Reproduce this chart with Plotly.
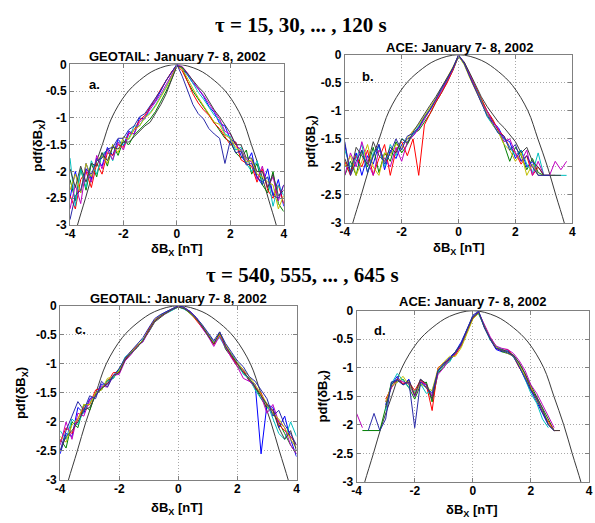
import plotly.graph_objects as go

W, H = 595, 523

# ---------------- data ----------------
x_full = [-4.0, -3.8, -3.6, -3.4, -3.2, -3.0, -2.8, -2.6, -2.4, -2.2, -2.0, -1.8, -1.6, -1.4,
          -1.2, -1.0, -0.8, -0.6, -0.4, -0.2, 0.0, 0.2, 0.4, 0.6, 0.8, 1.0, 1.2, 1.4, 1.6, 1.8,
          2.0, 2.2, 2.4, 2.6, 2.8, 3.0, 3.2, 3.4, 3.6, 3.8, 4.0]
x_ace_short = x_full[:40]
x_ace_long = x_full[:36]

# panel a: GEOTAIL, tau = 15..120 s
geotail_short = [
    [-2.5,-2.0,-2.4,-1.85,-2.15,-1.75,-1.9,-1.55,-1.7,-1.4,-1.52,-1.25,-1.3,-1.0,-1.02,-0.8,-0.68,-0.48,-0.3,-0.15,0.0,-0.08,-0.2,-0.35,-0.45,-0.6,-0.78,-0.9,-1.1,-1.15,-1.4,-1.45,-1.7,-1.85,-1.65,-2.1,-2.25,-1.95,-2.45,-2.15,-2.65],
    [-2.15,-2.55,-1.95,-2.35,-1.85,-2.1,-1.65,-1.9,-1.5,-1.7,-1.42,-1.5,-1.32,-1.22,-1.12,-1.02,-0.88,-0.7,-0.5,-0.28,-0.03,-0.07,-0.32,-0.5,-0.65,-0.8,-0.95,-1.1,-1.25,-1.38,-1.45,-1.65,-1.75,-1.6,-2.05,-1.85,-2.25,-2.4,-2.0,-2.6,-2.75],
    [-2.45,-2.7,-2.15,-2.0,-2.3,-1.85,-2.05,-1.65,-1.7,-1.5,-1.55,-1.3,-1.22,-1.05,-0.95,-0.8,-0.64,-0.46,-0.3,-0.14,-0.02,-0.12,-0.32,-0.55,-0.72,-0.85,-0.95,-1.1,-1.2,-1.35,-1.5,-1.45,-1.78,-1.85,-1.9,-2.2,-1.95,-2.35,-2.5,-2.25,-2.6],
    [-1.75,-2.65,-1.95,-2.3,-1.8,-2.05,-1.68,-1.6,-1.8,-1.45,-1.5,-1.38,-1.15,-1.15,-0.98,-0.9,-0.76,-0.6,-0.42,-0.22,-0.01,-0.05,-0.18,-0.35,-0.52,-0.65,-0.8,-0.95,-1.05,-1.3,-1.35,-1.6,-1.55,-1.85,-2.0,-1.8,-2.2,-2.1,-2.65,-2.25,-2.45],
    [-2.7,-2.25,-2.6,-1.95,-2.2,-1.7,-1.95,-1.58,-1.78,-1.45,-1.6,-1.28,-1.3,-1.08,-0.98,-0.85,-0.7,-0.55,-0.38,-0.2,-0.01,-0.04,-0.16,-0.32,-0.46,-0.58,-0.72,-0.88,-1.02,-1.25,-1.3,-1.5,-1.6,-1.78,-1.82,-2.15,-1.9,-2.3,-2.1,-2.55,-2.25],
    [-2.35,-2.05,-2.4,-1.85,-2.1,-1.8,-1.7,-1.85,-1.5,-1.65,-1.35,-1.4,-1.22,-1.15,-1.0,-0.92,-0.78,-0.62,-0.44,-0.24,-0.02,-0.08,-0.28,-0.45,-0.62,-0.78,-0.92,-1.08,-1.12,-1.32,-1.38,-1.55,-1.62,-1.82,-1.78,-2.05,-2.1,-2.2,-2.25,-2.7,-2.45],
    [-1.95,-2.3,-1.9,-2.2,-1.85,-1.9,-1.65,-1.8,-1.55,-1.58,-1.45,-1.45,-1.35,-1.25,-1.15,-1.08,-0.92,-0.75,-0.55,-0.3,-0.03,-0.05,-0.18,-0.3,-0.42,-0.52,-0.68,-0.85,-0.98,-1.12,-1.28,-1.5,-1.5,-1.75,-1.75,-2.0,-2.0,-2.3,-2.05,-2.45,-2.35],
    [-2.9,-2.45,-2.35,-1.95,-2.05,-1.8,-1.75,-1.58,-1.55,-1.38,-1.38,-1.22,-1.15,-0.98,-0.92,-0.78,-0.62,-0.48,-0.3,-0.15,0.0,-0.22,-0.5,-0.75,-0.92,-1.02,-1.2,-1.3,-1.38,-1.85,-1.42,-1.65,-1.62,-1.88,-1.85,-2.1,-2.2,-2.1,-2.45,-2.5,-2.25],
]

# panel b: ACE, tau = 15..120 s
ace_short = [
    [-1.6,-2.1,-1.75,-2.15,-1.8,-1.95,-1.6,-2.05,-1.7,-1.85,-1.6,-1.5,-1.45,-1.3,-1.1,-0.98,-0.8,-0.62,-0.45,-0.25,-0.02,-0.15,-0.4,-0.62,-0.85,-1.05,-1.2,-1.3,-1.5,-1.55,-1.85,-1.7,-2.0,-1.9,-2.15,-2.15,None,None,None,None],
    [-2.15,-1.9,-2.15,-1.7,-2.0,-1.65,-2.1,-1.75,-1.9,-1.55,-1.75,-1.6,-1.4,-1.35,-1.2,-1.05,-0.85,-0.68,-0.48,-0.28,-0.03,-0.16,-0.38,-0.6,-0.8,-1.0,-1.18,-1.35,-1.6,-1.9,-1.65,-1.8,-2.05,-1.85,-2.1,-2.15,-2.15,None,None,None],
    [-1.9,-2.15,-1.8,-2.0,-1.7,-2.15,-1.85,-1.6,-2.15,-1.7,-1.55,-1.8,-1.5,-2.15,-1.25,-1.05,-0.85,-0.68,-0.5,-0.28,-0.02,-0.14,-0.36,-0.58,-0.8,-1.0,-1.15,-1.35,-1.45,-1.65,-1.75,-1.95,-1.8,-2.15,-2.0,-2.15,-2.15,-2.15,None,None],
    [-1.7,-2.0,-1.85,-1.6,-2.1,-1.75,-1.65,-2.0,-1.6,-1.8,-1.5,-1.55,-1.42,-1.28,-1.12,-0.95,-0.8,-0.62,-0.45,-0.25,-0.02,-0.17,-0.4,-0.6,-0.82,-1.1,-1.25,-1.4,-1.5,-1.65,-1.8,-1.7,-1.95,-2.1,-1.75,-2.15,-2.15,-2.15,-2.15,-2.15],
    [-2.15,-1.75,-2.0,-1.55,-1.9,-2.15,-1.7,-1.85,-2.0,-1.65,-1.9,-1.55,-1.45,-1.32,-1.15,-1.0,-0.82,-0.65,-0.46,-0.26,-0.01,-0.14,-0.37,-0.6,-0.85,-1.0,-1.2,-1.32,-1.55,-1.5,-1.75,-1.9,-1.7,-2.15,-1.9,-2.15,-2.15,-1.9,-2.05,-1.9],
    [-2.0,-1.8,-2.15,-1.9,-1.6,-2.0,-2.15,-1.75,-1.8,-1.6,-1.65,-1.5,-1.35,-1.25,-1.1,-0.95,-0.78,-0.6,-0.42,-0.22,-0.02,-0.18,-0.42,-0.65,-0.85,-1.05,-1.25,-1.38,-1.6,-1.7,-1.9,-1.75,-2.15,-1.95,-2.15,-2.15,None,None,None,None],
    [-1.85,-2.1,-1.65,-1.8,-1.95,-1.55,-1.8,-1.9,-1.65,-1.75,-1.5,-1.58,-1.38,-1.22,-1.05,-0.9,-0.75,-0.58,-0.42,-0.24,-0.02,-0.13,-0.33,-0.55,-0.75,-0.92,-1.05,-1.2,-1.3,-1.42,-1.55,-1.75,-1.65,-1.9,-2.0,-2.15,-2.15,-2.15,-2.15,None],
    [-1.55,-2.15,-1.9,-1.7,-2.1,-1.8,-1.6,-1.95,-1.75,-1.5,-1.7,-1.45,-1.4,-1.3,-1.12,-0.98,-0.8,-0.6,-0.44,-0.24,0.0,-0.16,-0.4,-0.63,-0.85,-1.08,-1.22,-1.4,-1.45,-1.7,-1.6,-1.9,-1.8,-2.0,-2.15,-2.15,-2.15,None,None,None],
]

# panel c: GEOTAIL, tau = 540..645 s
geotail_long = [
    [-2.55,-2.2,-2.25,-1.75,-1.85,-1.6,-1.55,-1.35,-1.35,-1.2,-1.15,-0.9,-0.82,-0.68,-0.62,-0.42,-0.25,-0.16,-0.1,-0.05,0.0,-0.03,-0.1,-0.2,-0.35,-0.48,-0.62,-0.52,-0.72,-0.85,-1.0,-1.1,-1.3,-1.35,-2.55,-1.7,-1.75,-2.1,-1.9,-2.3,-2.6],
    [-2.3,-2.45,-2.0,-2.1,-1.7,-1.8,-1.5,-1.45,-1.28,-1.25,-1.08,-0.95,-0.8,-0.72,-0.58,-0.45,-0.28,-0.2,-0.12,-0.07,-0.02,-0.05,-0.13,-0.22,-0.36,-0.52,-0.65,-0.48,-0.75,-0.88,-1.05,-1.15,-1.28,-1.4,-1.6,-1.75,-1.85,-2.0,-2.2,-2.4,-2.55],
    [-2.35,-2.1,-2.2,-1.95,-1.75,-1.7,-1.45,-1.42,-1.32,-1.15,-1.15,-0.92,-0.78,-0.7,-0.6,-0.4,-0.24,-0.18,-0.11,-0.06,-0.01,-0.04,-0.12,-0.24,-0.36,-0.5,-0.67,-0.5,-0.7,-0.88,-1.02,-1.12,-1.28,-1.42,-1.5,-1.72,-1.8,-2.05,-2.15,-2.25,-2.4],
    [-2.15,-2.3,-1.95,-2.05,-1.8,-1.65,-1.55,-1.4,-1.3,-1.25,-1.1,-0.88,-0.8,-0.72,-0.58,-0.45,-0.26,-0.17,-0.13,-0.07,-0.02,-0.06,-0.12,-0.22,-0.33,-0.5,-0.63,-0.55,-0.72,-0.82,-0.98,-1.18,-1.25,-1.45,-1.6,-1.68,-1.95,-2.2,-2.3,-2.0,-2.25],
    [-2.4,-2.0,-2.3,-1.85,-1.9,-1.62,-1.55,-1.38,-1.4,-1.2,-1.18,-0.95,-0.84,-0.7,-0.62,-0.44,-0.27,-0.19,-0.12,-0.06,-0.01,-0.04,-0.1,-0.2,-0.38,-0.52,-0.7,-0.52,-0.72,-0.9,-1.05,-1.25,-1.3,-1.38,-1.55,-1.85,-1.7,-2.0,-2.1,-2.4,-2.55],
    [-2.25,-2.35,-2.05,-1.95,-1.7,-1.7,-1.5,-1.45,-1.25,-1.22,-1.12,-0.9,-0.8,-0.68,-0.6,-0.42,-0.25,-0.17,-0.12,-0.05,-0.02,-0.04,-0.13,-0.23,-0.34,-0.48,-0.64,-0.5,-0.68,-0.84,-0.98,-1.1,-1.22,-1.36,-1.52,-1.7,-1.85,-1.95,-2.1,-2.3,-2.45],
    [-2.5,-2.25,-2.15,-2.0,-1.8,-1.75,-1.55,-1.42,-1.35,-1.2,-1.15,-0.93,-0.82,-0.72,-0.6,-0.44,-0.26,-0.18,-0.12,-0.06,-0.02,-0.05,-0.12,-0.22,-0.35,-0.5,-0.66,-0.45,-0.7,-0.85,-1.0,-1.15,-1.25,-1.4,-1.55,-1.7,-1.8,-2.1,-2.3,-2.15,-2.5],
    [-2.5,-2.15,-1.9,-1.65,-1.8,-1.55,-1.6,-1.3,-1.4,-1.2,-1.08,-0.9,-0.78,-0.66,-0.55,-0.38,-0.22,-0.15,-0.1,-0.05,0.0,-0.03,-0.1,-0.2,-0.32,-0.46,-0.6,-0.45,-0.65,-0.8,-0.95,-1.05,-1.22,-1.3,-1.45,-1.6,-1.9,-1.8,-2.05,-2.2,-2.4],
]

# panel d: ACE, tau = 540..645 s
ace_long = [
    [None,None,None,None,None,-1.65,-1.3,-1.15,-1.3,-1.2,-1.5,-1.2,-1.35,-1.5,-1.05,-0.95,-0.82,-0.72,-0.55,-0.32,-0.1,-0.02,-0.3,-0.5,-0.68,-0.72,-0.7,-0.8,-0.98,-1.2,-1.4,-1.6,-1.8,-2.0,-2.1,None],
    [None,-2.1,-2.1,-2.1,-2.1,-1.7,-1.25,-1.25,-1.2,-1.35,-1.55,-1.3,-1.25,-1.6,-1.1,-0.98,-0.88,-0.75,-0.62,-0.38,-0.12,-0.05,-0.28,-0.48,-0.62,-0.72,-0.75,-0.78,-0.92,-1.12,-1.3,-1.5,-1.7,-1.92,-2.1,None],
    [None,None,None,None,None,-1.55,-1.35,-1.2,-1.28,-1.25,-1.4,-1.22,-1.3,-1.75,-1.0,-0.92,-0.85,-0.78,-0.6,-0.35,-0.14,-0.04,-0.26,-0.5,-0.66,-0.7,-0.68,-0.8,-1.0,-1.15,-1.35,-1.55,-1.78,-1.95,-2.1,-2.1],
    [None,None,None,None,None,-1.75,-1.28,-1.1,-1.22,-1.35,-1.42,-1.28,-1.45,-1.4,-1.08,-0.95,-0.9,-0.72,-0.58,-0.34,-0.1,-0.06,-0.3,-0.52,-0.63,-0.68,-0.72,-0.82,-0.95,-1.2,-1.45,-1.62,-1.9,-2.05,None,None],
    [-1.8,-2.05,None,None,None,-1.6,-1.35,-1.2,-1.25,-1.28,-1.5,-1.25,-1.3,-1.5,-1.12,-1.0,-0.85,-0.75,-0.6,-0.36,-0.12,-0.03,-0.25,-0.46,-0.62,-0.66,-0.68,-0.75,-0.88,-1.05,-1.3,-1.45,-1.65,-1.85,-2.05,None],
    [None,None,None,None,None,-1.6,-1.32,-1.25,-1.15,-1.3,-1.45,-1.28,-1.35,-1.4,-1.02,-0.9,-0.8,-0.8,-0.65,-0.4,-0.15,-0.04,-0.27,-0.5,-0.64,-0.7,-0.75,-0.8,-0.95,-1.15,-1.35,-1.58,-1.75,-1.98,-2.1,None],
    [None,None,None,None,None,-1.7,-1.3,-1.2,-1.3,-1.22,-1.48,-1.2,-1.28,-1.55,-1.05,-0.95,-0.85,-0.72,-0.58,-0.34,-0.12,-0.03,-0.3,-0.5,-0.66,-0.68,-0.72,-0.78,-0.92,-1.1,-1.38,-1.52,-1.72,-2.0,-2.1,-2.1],
    [None,None,-2.1,-1.8,-2.1,-1.9,-1.25,-1.22,-1.3,-1.25,-2.05,-1.25,-1.35,-1.45,-1.05,-0.92,-0.84,-0.74,-0.58,-0.33,-0.08,-0.01,-0.28,-0.5,-0.66,-0.7,-0.74,-0.8,-0.98,-1.18,-1.4,-1.55,-1.78,-2.0,-2.1,None],
]

# Gaussian reference curve (same in all panels)
gauss_x = [-3.85, -3.72, -3.42, -3.13, -2.79, -2.44, -1.9, -1.4, -0.8, 0.0, 0.8, 1.4, 1.9, 2.44, 2.79, 3.13, 3.42, 3.72, 3.85]
gauss_y = [-3.25, -3.0, -2.5, -2.0, -1.5, -1.0, -0.55, -0.3, -0.1, 0.0, -0.1, -0.3, -0.55, -1.0, -1.5, -2.0, -2.5, -3.0, -3.25]

x_ticks = [-4, -2, 0, 2, 4]
y_ticks = [-3, -2.5, -2, -1.5, -1, -0.5, 0]
y_tick_text = ["-3", "-2.5", "-2", "-1.5", "-1", "-0.5", "0"]

panel_titles = ["GEOTAIL: January 7- 8, 2002", "ACE: January 7- 8, 2002",
                "GEOTAIL: January 7- 8, 2002", "ACE: January 7- 8, 2002"]
panel_letters = ["a.", "b.", "c.", "d."]
row_titles = ["τ = 15, 30, ... , 120 s", "τ = 540, 555, ... , 645 s"]

colors = ["#0000ff", "#008000", "#ff0000", "#00bfbf", "#bf00bf", "#bfbf00", "#404040", "#2a2aa8"]

# ---------------- layout geometry (pixels) ----------------
boxes = [  # left, right, top, bottom
    (66, 283, 59, 224),
    (345, 576, 49, 222),
    (56, 296, 307, 486),
    (357, 593, 312, 488),
]

def px(x):
    return x / W

def py(y):
    return 1 - y / H

fig = go.Figure()

panels = [(x_full, geotail_short), (x_ace_short, ace_short), (x_full, geotail_long), (x_ace_long, ace_long)]
for k, (xs, curves) in enumerate(panels):
    xa = "x" if k == 0 else f"x{k+1}"
    ya = "y" if k == 0 else f"y{k+1}"
    fig.add_trace(go.Scatter(x=gauss_x, y=gauss_y, mode="lines", line=dict(color="#3a3a3a", width=1, shape="spline"),
                             xaxis=xa, yaxis=ya, showlegend=False, hoverinfo="skip"))
    for j, ys in enumerate(curves):
        fig.add_trace(go.Scatter(x=xs, y=ys, mode="lines", line=dict(color=colors[j], width=1),
                                 xaxis=xa, yaxis=ya, showlegend=False, connectgaps=False))

axis_common = dict(
    showgrid=True, gridcolor="#a8a8a8", griddash="1px,2px", gridwidth=1,
    zeroline=False, showline=True, linecolor="#808080", linewidth=1, mirror="ticks",
    ticks="inside", ticklen=4, tickcolor="#808080",
    tickfont=dict(family="Liberation Sans", size=12, color="black", weight="bold"),
)

layout = dict(width=W, height=H, margin=dict(l=0, r=0, t=0, b=0), autosize=False,
              paper_bgcolor="white", plot_bgcolor="white")
for k, (l, r, t, b) in enumerate(boxes):
    xn = "xaxis" if k == 0 else f"xaxis{k+1}"
    yn = "yaxis" if k == 0 else f"yaxis{k+1}"
    ya = "y" if k == 0 else f"y{k+1}"
    xa = "x" if k == 0 else f"x{k+1}"
    layout[xn] = dict(domain=[px(l), px(r)], range=[-4, 4], anchor=ya, tickvals=x_ticks,
                      ticktext=[str(v) for v in x_ticks], ticklabelstandoff=-2, **axis_common)
    layout[yn] = dict(domain=[py(b), py(t)], range=[-3, 0], anchor=xa, tickvals=y_ticks,
                      ticktext=y_tick_text, **axis_common)
fig.update_layout(**layout)

ann = []
sans = "Liberation Sans"
# row titles
for txt, (cx, cy) in zip(row_titles, [(301, 18), (302, 275)]):
    ann.append(dict(text=f"<b>{txt}</b>", x=px(cx), y=py(cy), xref="paper", yref="paper",
                    showarrow=False, xanchor="center", yanchor="middle",
                    font=dict(family="Liberation Serif", size=21, color="black")))
# panel titles
for txt, (cx, cy) in zip(panel_titles, [(175, 51), (461, 42), (176, 300), (475, 303)]):
    ann.append(dict(text=f"<b>{txt}</b>", x=px(cx), y=py(cy), xref="paper", yref="paper",
                    showarrow=False, xanchor="center", yanchor="middle",
                    font=dict(family=sans, size=13, color="black")))
# x labels
for (cx, cy) in [(175, 249), (461, 248), (175, 515), (474, 517)]:
    ann.append(dict(text="<b>δB<sub>X</sub> [nT]</b>", x=px(cx), y=py(cy), xref="paper", yref="paper",
                    showarrow=False, xanchor="center", yanchor="middle",
                    font=dict(family=sans, size=13, color="black")))
# y labels
for (cx, cy) in [(34, 142), (311, 138), (17, 397), (323, 400)]:
    ann.append(dict(text="<b>pdf(δB<sub>X</sub>)</b>", x=px(cx), y=py(cy), xref="paper", yref="paper",
                    showarrow=False, xanchor="center", yanchor="middle", textangle=-90,
                    font=dict(family=sans, size=13, color="black")))
# panel letters (data coords)
for k, (lx, ly) in enumerate([(-3.1, -0.38), (-3.17, -0.39), (-3.3, -0.41), (-3.19, -0.34)]):
    xa = "x" if k == 0 else f"x{k+1}"
    ya = "y" if k == 0 else f"y{k+1}"
    ann.append(dict(text=f"<b>{panel_letters[k]}</b>", x=lx, y=ly, xref=xa, yref=ya,
                    showarrow=False, xanchor="center", yanchor="middle",
                    font=dict(family=sans, size=13, color="black")))
fig.update_layout(annotations=ann)

fig.write_html("out.html", config={"displayModeBar": False},
               post_script="document.body.style.margin='0px';")
